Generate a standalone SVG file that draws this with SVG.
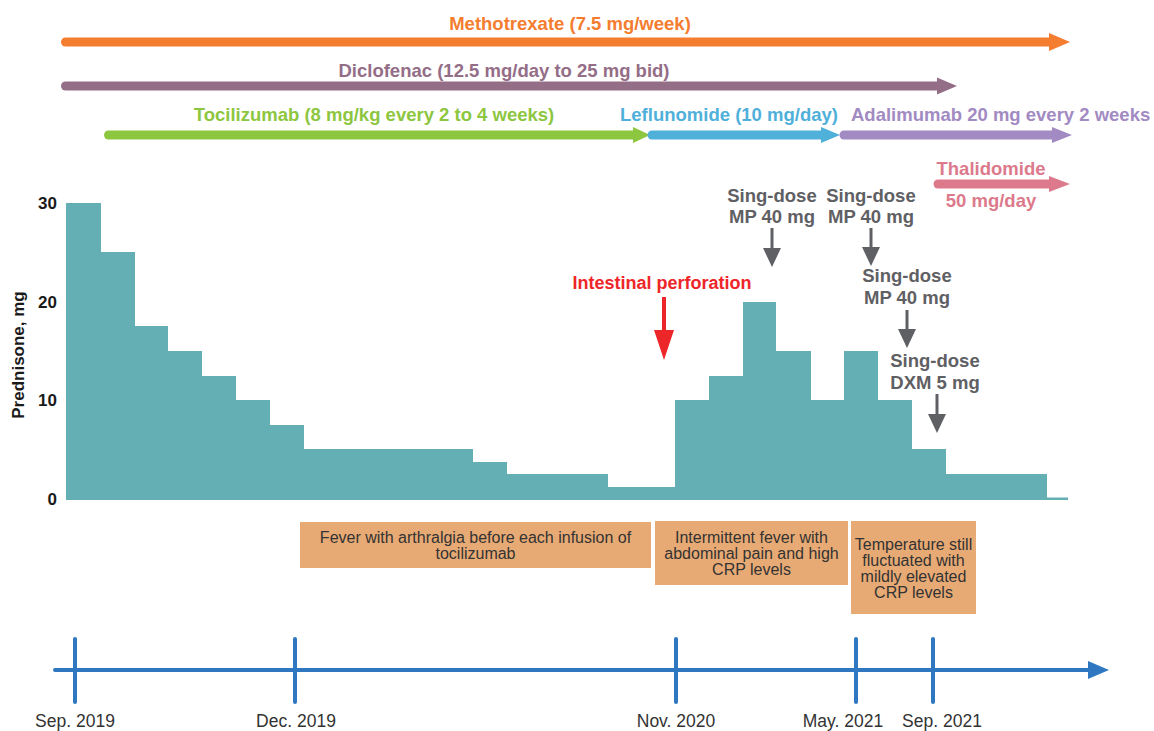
<svg xmlns="http://www.w3.org/2000/svg" width="1154" height="731" viewBox="0 0 1154 731">
  <style>
    text { font-family: "Liberation Sans", Arial, Helvetica, sans-serif; }
    .lbl { font-weight: bold; font-size: 18.5px; }
    .bar { stroke-width: 9; stroke-linecap: round; fill: none; }
    .tick { font-weight: bold; font-size: 17px; fill: #1a1a1a; text-anchor: end; }
    .gray { fill: #5f6064; font-weight: bold; font-size: 18.5px; text-anchor: middle; }
    .box { fill: #e8aa74; }
    .boxt { font-size: 16px; fill: #333333; text-anchor: middle; }
    .date { font-size: 17.5px; fill: #333333; text-anchor: middle; }
    .tl { stroke: #2f78c1; stroke-width: 4; stroke-linecap: round; fill: none; }
    .garr { stroke: #5f6064; stroke-width: 3; fill: none; }
  </style>

  <!-- Drug bars -->
  <g id="methotrexate">
    <text class="lbl" x="570" y="30" text-anchor="middle" fill="#f47d30">Methotrexate (7.5 mg/week)</text>
    <line class="bar" x1="65.5" y1="42" x2="1050" y2="42" stroke="#f47d30"/>
    <polygon points="1049,33 1070,42 1049,51" fill="#f47d30"/>
  </g>
  <g id="diclofenac">
    <text class="lbl" x="504" y="77" text-anchor="middle" fill="#946d87">Diclofenac (12.5 mg/day to 25 mg bid)</text>
    <line class="bar" x1="65.5" y1="86" x2="938" y2="86" stroke="#946d87"/>
    <polygon points="937,77.5 957,86 937,94.5" fill="#946d87"/>
  </g>
  <g id="tocilizumab">
    <text class="lbl" x="374" y="121" text-anchor="middle" fill="#8dc63f">Tocilizumab (8 mg/kg every 2 to 4 weeks)</text>
    <line class="bar" x1="108.5" y1="135" x2="634" y2="135" stroke="#8dc63f"/>
    <polygon points="633,127 650,135 633,143" fill="#8dc63f"/>
  </g>
  <g id="leflunomide">
    <text class="lbl" x="729" y="121" text-anchor="middle" fill="#4fb0da">Leflunomide (10 mg/day)</text>
    <line class="bar" x1="652" y1="135" x2="822" y2="135" stroke="#4fb0da"/>
    <polygon points="821,127 840,135 821,143" fill="#4fb0da"/>
  </g>
  <g id="adalimumab">
    <text class="lbl" x="851" y="121" fill="#a28ac2">Adalimumab 20 mg every 2 weeks</text>
    <line class="bar" x1="844" y1="135" x2="1053" y2="135" stroke="#a28ac2"/>
    <polygon points="1052,127 1072,135 1052,143" fill="#a28ac2"/>
  </g>
  <g id="thalidomide">
    <text class="lbl" x="991" y="175" text-anchor="middle" fill="#dc7a8c">Thalidomide</text>
    <line class="bar" x1="938" y1="184" x2="1050" y2="184" stroke="#dc7a8c"/>
    <polygon points="1049,176 1070,184 1049,192" fill="#dc7a8c"/>
    <text class="lbl" x="991" y="207" text-anchor="middle" fill="#dc7a8c">50 mg/day</text>
  </g>

  <!-- Prednisone chart -->
  <g id="prednisone-chart">
    <text x="0" y="0" transform="translate(24,355) rotate(-90)" text-anchor="middle" font-weight="bold" font-size="17" fill="#1a1a1a">Prednisone, mg</text>
    <text class="tick" x="57" y="209">30</text>
    <text class="tick" x="57" y="308">20</text>
    <text class="tick" x="57" y="406">10</text>
    <text class="tick" x="57" y="505">0</text>
    <path fill="#64afb4" d="M66,500 V203 H101 V252 H135 V326 H168 V351 H202 V376 H236 V400 H270 V425 H304 V449 H473 V462 H507 V474 H608 V487 H675 V400 H709 V376 H743 V302 H776 V351 H811 V400 H844 V351 H878 V400 H912 V449 H946 V474 H1047 V497.5 H1068 V500 Z"/>
  </g>

  <!-- Event annotations -->
  <g id="intestinal-perforation">
    <text x="662" y="289" text-anchor="middle" font-weight="bold" font-size="18" fill="#ed2629">Intestinal perforation</text>
    <line x1="664" y1="297" x2="664" y2="332" stroke="#ed2629" stroke-width="4"/>
    <polygon points="654,330 674,330 664,360" fill="#ed2629"/>
  </g>
  <g id="mp1">
    <text class="gray" x="772" y="202">Sing-dose</text>
    <text class="gray" x="772" y="223">MP 40 mg</text>
  </g>
  <g id="mp2">
    <text class="gray" x="871" y="202">Sing-dose</text>
    <text class="gray" x="871" y="223">MP 40 mg</text>
  </g>
  <g id="mp3">
    <text class="gray" x="907" y="282">Sing-dose</text>
    <text class="gray" x="907" y="304">MP 40 mg</text>
  </g>
  <g id="dxm">
    <text class="gray" x="935" y="367">Sing-dose</text>
    <text class="gray" x="935" y="389">DXM 5 mg</text>
  </g>

  <!-- Connectors (dose arrows) -->
  <g id="connectors">
    <line class="garr" x1="772" y1="228" x2="772" y2="250"/>
    <polygon points="763,248 781,248 772,267" fill="#5f6064"/>
    <line class="garr" x1="871" y1="228" x2="871" y2="249"/>
    <polygon points="862,247 880,247 871,266" fill="#5f6064"/>
    <line class="garr" x1="907" y1="310" x2="907" y2="331"/>
    <polygon points="898,329 916,329 907,348" fill="#5f6064"/>
    <line class="garr" x1="937" y1="394" x2="937" y2="416"/>
    <polygon points="928,414 946,414 937,433" fill="#5f6064"/>
  </g>

  <!-- Clinical boxes -->
  <g id="box-fever">
    <rect class="box" x="300" y="522" width="351" height="46"/>
    <text class="boxt" x="475.5" y="543">Fever with arthralgia before each infusion of</text>
    <text class="boxt" x="475.5" y="558.5">tocilizumab</text>
  </g>
  <g id="box-intermittent">
    <rect class="box" x="655" y="521" width="193" height="64"/>
    <text class="boxt" x="751.5" y="543">Intermittent fever with</text>
    <text class="boxt" x="751.5" y="558.5">abdominal pain and high</text>
    <text class="boxt" x="751.5" y="574.5">CRP levels</text>
  </g>
  <g id="box-temperature">
    <rect class="box" x="851" y="521" width="125" height="93"/>
    <text class="boxt" x="913.5" y="550">Temperature still</text>
    <text class="boxt" x="913.5" y="565.5">fluctuated with</text>
    <text class="boxt" x="913.5" y="581.5">mildly elevated</text>
    <text class="boxt" x="913.5" y="597.5">CRP levels</text>
  </g>

  <!-- Timeline -->
  <g id="timeline">
    <line class="tl" x1="55" y1="670" x2="1090" y2="670"/>
    <polygon points="1088,661 1109,670 1088,679" fill="#2f78c1"/>
    <line class="tl" x1="75" y1="639" x2="75" y2="702"/>
    <line class="tl" x1="295" y1="639" x2="295" y2="702"/>
    <line class="tl" x1="676" y1="639" x2="676" y2="702"/>
    <line class="tl" x1="856" y1="639" x2="856" y2="702"/>
    <line class="tl" x1="933" y1="639" x2="933" y2="702"/>
    <text class="date" x="75" y="727">Sep. 2019</text>
    <text class="date" x="296" y="727">Dec. 2019</text>
    <text class="date" x="676" y="727">Nov. 2020</text>
    <text class="date" x="843" y="727">May. 2021</text>
    <text class="date" x="942" y="727">Sep. 2021</text>
  </g>
</svg>
